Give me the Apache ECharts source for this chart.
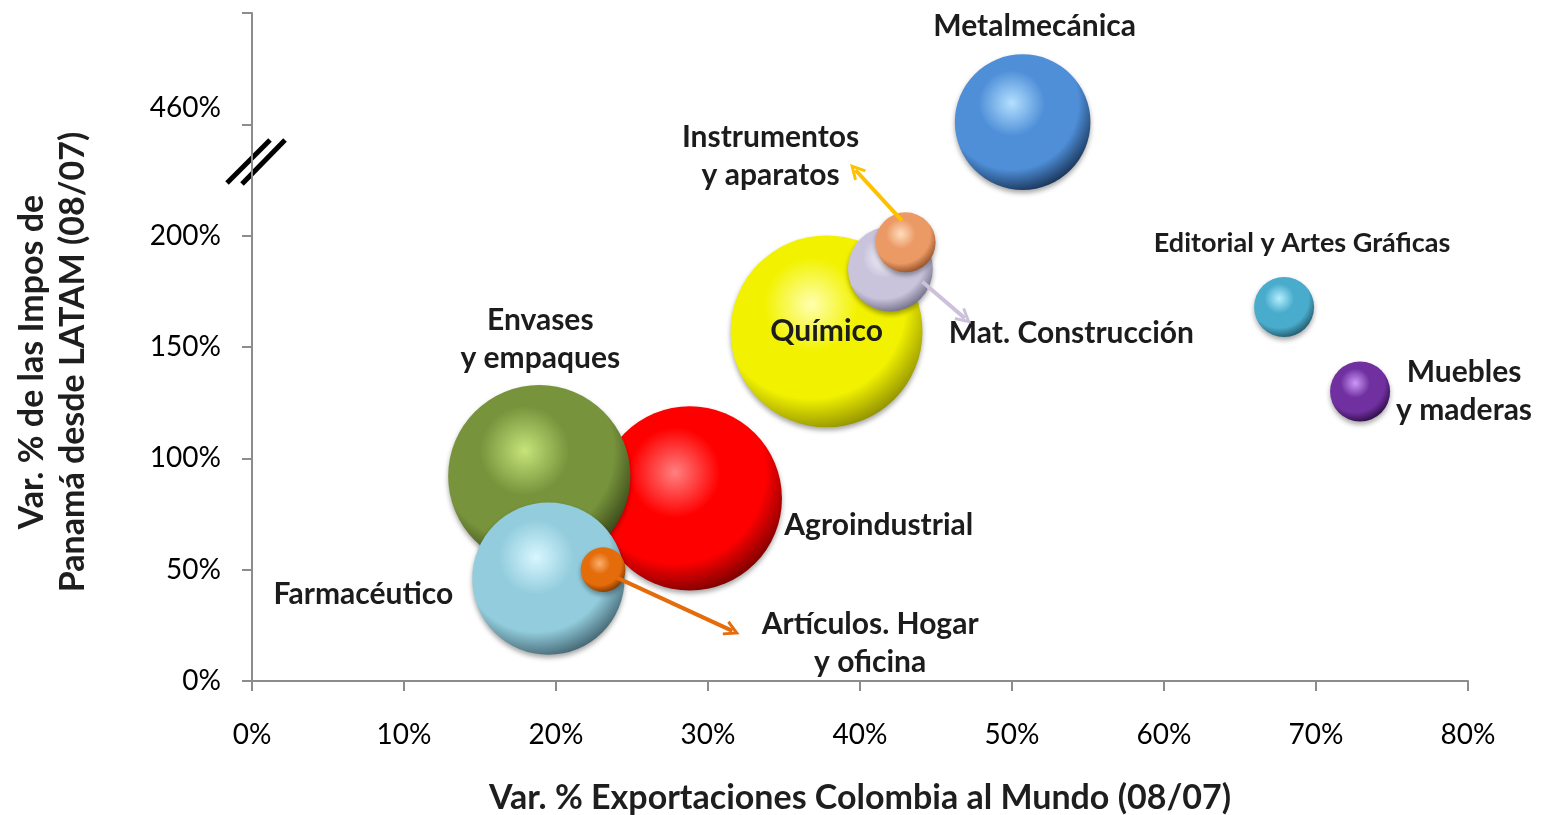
<!DOCTYPE html>
<html>
<head>
<meta charset="utf-8">
<script src="https://cdn.jsdelivr.net/npm/echarts@6/dist/echarts.min.js"></script>
<style>
html, body { margin: 0; padding: 0; background: #fff; }
#chart { width: 1541px; height: 815px; }
</style>
</head>
<body>
<div id="chart"></div>
<script>
// sectores en orden de dibujo (los de atrás primero)
var sectores = ['Agroindustrial', 'Envases\ny empaques', 'Farmacéutico', 'Artículos. Hogar\ny oficina',
  'Químico', 'Mat. Construcción', 'Instrumentos\ny aparatos', 'Metalmecánica',
  'Editorial y Artes Gráficas', 'Muebles\ny maderas'];
var varExpo = [28.8, 18.9, 19.5, 23.1, 37.8, 42.0, 43.0, 50.7, 67.9, 72.9];   // % x
var varImpo = [82, 92, 46, 50, 157, 185, 197, 461, 168, 130];                 // % y
var peso = [85, 83, 58, 5, 92, 18, 9, 46, 9, 9];                              // tamaño burbuja
var xTicks = [0, 10, 20, 30, 40, 50, 60, 70, 80];
var yTicks = [0, 50, 100, 150, 200, 460];

// colores [brillo, base, sombra]
var colores = [
  ['#ff8080', '#ff0000', '#600000'],
  ['#c6e47a', '#77933c', '#28330f'],
  ['#d8f6ff', '#93cddd', '#35525e'],
  ['#f9b070', '#e46c0a', '#6a2e00'],
  ['#ffffb0', '#f2f200', '#7e7e00'],
  ['#f8f6fe', '#c9c4dc', '#615d76'],
  ['#ffdcbc', '#eb9a66', '#80421a'],
  ['#b4e0ff', '#4f8fd8', '#0e223e'],
  ['#b4eeff', '#4aaccc', '#1a4a5a'],
  ['#cc98f8', '#7030a0', '#230534']
];
// posicion de la etiqueta respecto al centro de la burbuja
var etiquetaOffset = [[189, 27], [1, -137], [-185, 16], [267, 74], [0, 0],
  [181, 64], [-135, -86], [12, -96], [18, -64], [104, 0]];

// eje Y con corte: sobre 200% se comprime
function yEje(v) { return v <= 200 ? v : 250 + (v - 460); }
var yEtiquetaPos = yTicks.map(function (v) { return v <= 200 ? v : 257.5; });

var datos = sectores.map(function (s, i) {
  var c = colores[i];
  return {
    name: s,
    value: [varExpo[i], yEje(varImpo[i]), peso[i]],
    itemStyle: {
      color: {
        type: 'radial', x: 0.42, y: 0.36, r: 0.7,
        colorStops: [
          { offset: 0, color: c[0] },
          { offset: 0.35, color: c[1] },
          { offset: 0.7, color: c[1] },
          { offset: 1, color: c[2] }
        ]
      }
    },
    label: { offset: etiquetaOffset[i], fontSize: i === 8 ? 27 : 30 }
  };
});

var flecha = 'path://M0,12 L6,0 L12,12 L10,13 L6,5 L2,13 Z';

var chart = echarts.init(document.getElementById('chart'));
chart.setOption({
  backgroundColor: '#fff',
  animation: false,
  textStyle: { fontFamily: 'Lato' },
  grid: { left: 252, right: 73, top: 13, bottom: 134, outerBoundsMode: 'none', containLabel: false },
  xAxis: {
    type: 'value', min: 0, max: 80, interval: 10,
    name: 'Var. % Exportaciones Colombia al Mundo (08/07)',
    nameLocation: 'middle', nameGap: 100,
    nameTextStyle: { fontSize: 34, fontWeight: 'bold', color: '#1e1e1e' },
    axisLine: { lineStyle: { color: '#8c8c8c', width: 2 } },
    axisTick: { show: true, length: 10, inside: false, lineStyle: { color: '#8c8c8c', width: 2 } },
    axisLabel: { fontSize: 28, color: '#000', margin: 40, formatter: '{value}%' },
    splitLine: { show: false }
  },
  yAxis: {
    type: 'value', min: 0, max: 300, interval: 50,
    name: 'Var. % de las Impos de\nPanamá desde LATAM (08/07)',
    nameLocation: 'middle', nameGap: 158,
    nameTextStyle: { fontSize: 34, fontWeight: 'bold', color: '#1e1e1e', lineHeight: 41, padding: [0, 30, 0, 0] },
    axisLine: { show: true, lineStyle: { color: '#8c8c8c', width: 2 } },
    axisTick: { show: true, length: 10, lineStyle: { color: '#8c8c8c', width: 2 } },
    axisLabel: {
      fontSize: 28, color: '#000', margin: 31,
      customValues: yEtiquetaPos,
      formatter: function (v) {
        var i = yEtiquetaPos.indexOf(v);
        return i >= 0 ? yTicks[i] + '%' : '';
      }
    },
    splitLine: { show: false }
  },
  series: [{
    type: 'scatter',
    data: datos,
    symbolSize: function (v) { return Math.sqrt(v[2]) * 20; },
    itemStyle: { opacity: 1, shadowColor: 'rgba(0,0,0,0.35)', shadowBlur: 5, shadowOffsetY: 3 },
    label: {
      show: true, position: 'inside',
      formatter: function (p) { return p.name; },
      fontSize: 30, fontWeight: 'bold', color: '#1c1c1c', lineHeight: 38, align: 'center'
    },
    emphasis: { disabled: true },
    markLine: {
      silent: true, symbol: ['none', flecha], symbolSize: [16, 16],
      label: { show: false },
      data: [
        [{ coord: [42.76, 206.8] }, { coord: [39.7, 229.5], lineStyle: { color: '#ffc000' } }],
        [{ coord: [44.1, 179.3] }, { coord: [46.9, 162.9], lineStyle: { color: '#ccc0da' } }],
        [{ coord: [24.0, 46.4] }, { coord: [31.6, 22.5], lineStyle: { color: '#e46c0a' } }]
      ],
      lineStyle: { width: 4, type: 'solid', opacity: 1 }
    }
  }],
  graphic: [
    { type: 'line', shape: { x1: 227, y1: 183, x2: 270, y2: 140 }, style: { stroke: '#000', lineWidth: 5 } },
    { type: 'line', shape: { x1: 242, y1: 184, x2: 285, y2: 140 }, style: { stroke: '#000', lineWidth: 5 } }
  ]
});
</script>
</body>
</html>
